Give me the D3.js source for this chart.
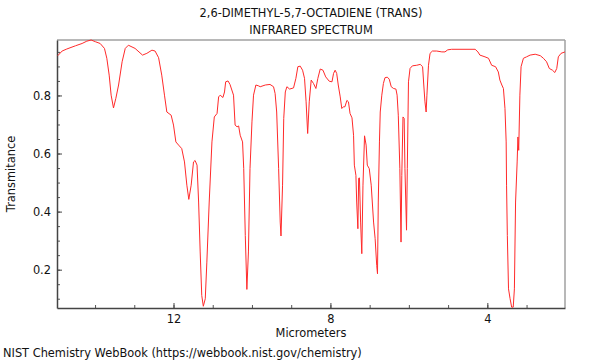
<!DOCTYPE html>
<html>
<head>
    <meta charset="utf-8">
    <title>IR spectrum with D3.js</title>
    <script src="https://d3js.org/d3.v7.min.js"></script>
    <style>
        body { margin: 0; background: #fff; }
        text { font-family: "DejaVu Sans", sans-serif; fill: #111; }
        .spectrum { fill: none; stroke: #ff2a2a; stroke-width: 1; }
    </style>
</head>
<body>
    <div id="chart"></div>

    <script>
        // Spectrum: wavelength (micrometers) and transmittance
        var micrometers = [
            14.95, 14.84, 14.72, 14.50, 14.33, 14.21, 14.10, 13.99, 13.87, 13.76,
            13.70, 13.64, 13.59, 13.53, 13.47, 13.40, 13.31, 13.23, 13.15, 12.98,
            12.79, 12.68, 12.55, 12.47, 12.38, 12.30, 12.23, 12.17, 12.06, 12.00,
            11.94, 11.87, 11.79, 11.72, 11.66, 11.61, 11.55, 11.49, 11.45, 11.40,
            11.36, 11.32, 11.28, 11.24, 11.19, 11.15, 11.09, 11.02, 10.96, 10.89,
            10.85, 10.81, 10.74, 10.70, 10.67, 10.61, 10.56, 10.47, 10.43, 10.38,
            10.34, 10.30, 10.24, 10.21, 10.17, 10.13, 10.09, 10.05, 10.00, 9.96,
            9.90, 9.83, 9.79, 9.66, 9.54, 9.45, 9.41, 9.37, 9.32, 9.28,
            9.26, 9.22, 9.19, 9.15, 9.11, 9.04, 8.94, 8.88, 8.83, 8.77,
            8.71, 8.66, 8.62, 8.58, 8.54, 8.49, 8.43, 8.37, 8.32, 8.26,
            8.19, 8.12, 8.03, 7.96, 7.92, 7.88, 7.84, 7.80, 7.75, 7.71,
            7.67, 7.63, 7.58, 7.54, 7.50, 7.45, 7.41, 7.39, 7.35, 7.33,
            7.30, 7.28, 7.26, 7.23, 7.20, 7.17, 7.13, 7.09, 7.06, 7.01,
            6.96, 6.90, 6.86, 6.82, 6.80, 6.78, 6.75, 6.73, 6.69, 6.65,
            6.61, 6.55, 6.50, 6.45, 6.39, 6.33, 6.30, 6.27, 6.23, 6.20,
            6.18, 6.15, 6.12, 6.10, 6.06, 6.04, 6.01, 5.97, 5.91, 5.80,
            5.71, 5.65, 5.62, 5.59, 5.56, 5.54, 5.50, 5.46, 5.40, 5.29,
            5.16, 5.08, 5.01, 4.91, 4.31, 4.24, 4.19, 4.06, 3.97, 3.89,
            3.79, 3.72, 3.68, 3.63, 3.59, 3.55, 3.52, 3.51, 3.49, 3.46,
            3.42, 3.38, 3.34, 3.31, 3.28, 3.24, 3.22, 3.20, 3.17, 3.14,
            3.08, 3.00, 2.91, 2.78, 2.65, 2.57, 2.49, 2.42, 2.34, 2.28,
            2.23, 2.19, 2.12, 2.02
        ];
        var transmittance = [
            0.937, 0.953, 0.960, 0.971, 0.979, 0.987, 0.991, 0.985, 0.979, 0.962,
            0.928, 0.870, 0.801, 0.757, 0.790, 0.836, 0.916, 0.962, 0.973, 0.962,
            0.939, 0.945, 0.956, 0.953, 0.930, 0.870, 0.801, 0.743, 0.732, 0.698,
            0.640, 0.629, 0.617, 0.571, 0.491, 0.442, 0.491, 0.571, 0.576, 0.560,
            0.433, 0.261, 0.111, 0.074, 0.100, 0.226, 0.433, 0.640, 0.726, 0.738,
            0.795, 0.801, 0.793, 0.812, 0.847, 0.850, 0.838, 0.801, 0.698, 0.692,
            0.695, 0.663, 0.640, 0.548, 0.318, 0.132, 0.261, 0.548, 0.709, 0.801,
            0.836, 0.833, 0.830, 0.836, 0.838, 0.830, 0.807, 0.743, 0.548, 0.364,
            0.316, 0.491, 0.721, 0.812, 0.830, 0.822, 0.826, 0.859, 0.899, 0.901,
            0.887, 0.859, 0.778, 0.669, 0.778, 0.853, 0.841, 0.824, 0.859, 0.891,
            0.887, 0.864, 0.849, 0.847, 0.876, 0.887, 0.876, 0.836, 0.795, 0.755,
            0.761, 0.761, 0.783, 0.778, 0.738, 0.723, 0.663, 0.560, 0.525, 0.433,
            0.341, 0.515, 0.516, 0.364, 0.255, 0.491, 0.661, 0.629, 0.560, 0.548,
            0.491, 0.364, 0.307, 0.215, 0.186, 0.433, 0.640, 0.743, 0.801, 0.841,
            0.861, 0.863, 0.856, 0.830, 0.824, 0.822, 0.801, 0.732, 0.548, 0.295,
            0.525, 0.726, 0.721, 0.548, 0.336, 0.548, 0.847, 0.893, 0.902, 0.904,
            0.907, 0.899, 0.836, 0.778, 0.743, 0.801, 0.904, 0.945, 0.953, 0.953,
            0.950, 0.950, 0.957, 0.959, 0.959, 0.950, 0.939, 0.933, 0.928, 0.904,
            0.899, 0.881, 0.853, 0.836, 0.824, 0.755, 0.640, 0.491, 0.318, 0.134,
            0.100, 0.071, 0.071, 0.134, 0.433, 0.571, 0.657, 0.611, 0.801, 0.899,
            0.928, 0.933, 0.939, 0.942, 0.937, 0.928, 0.916, 0.893, 0.887, 0.879,
            0.893, 0.933, 0.945, 0.950
        ];
        var xTicks = [12, 8, 4];
        var yTicks = [0.2, 0.4, 0.6, 0.8];

        var data = micrometers.map(function (m, i) { return { um: m, t: transmittance[i] }; });

        var margin = { top: 40, right: 35, bottom: 52, left: 57 };
        var W = 600, H = 360;
        var width = W - margin.left - margin.right;
        var height = H - margin.top - margin.bottom;
        var fs = "11.4px";

        var svg = d3.select("#chart").append("svg")
            .attr("width", W)
            .attr("height", H);

        var g = svg.append("g")
            .attr("transform", "translate(" + margin.left + "," + margin.top + ")");

        // wavelength runs right to left
        var x = d3.scaleLinear().domain([14.97, 2.02]).range([0, width]);
        var y = d3.scaleLinear().domain([0.068, 0.991]).range([height, 0]);

        // frame: top and right in light gray
        g.append("line").attr("x1", 0).attr("x2", width).attr("y1", 0).attr("y2", 0)
            .attr("stroke", "#a0a0a0").attr("stroke-width", 1.5);
        g.append("line").attr("x1", width).attr("x2", width).attr("y1", 0).attr("y2", height)
            .attr("stroke", "#a0a0a0").attr("stroke-width", 1.5);

        // minor ticks
        g.append("g")
            .attr("transform", "translate(0," + height + ")")
            .call(d3.axisBottom(x).tickValues(d3.range(3, 15)).tickSize(-3).tickFormat(""))
            .call(function (a) { a.select(".domain").remove(); a.selectAll("line").attr("stroke", "#555"); });
        g.append("g")
            .call(d3.axisLeft(y).tickValues(d3.range(0.1, 0.99, 0.05)).tickSize(-3).tickFormat(""))
            .call(function (a) { a.select(".domain").remove(); a.selectAll("line").attr("stroke", "#555"); });

        // major axes
        var xAxis = g.append("g")
            .attr("transform", "translate(0," + height + ")")
            .call(d3.axisBottom(x).tickValues(xTicks).tickSize(-5).tickSizeOuter(0).tickPadding(7).tickFormat(d3.format("d")));
        var yAxis = g.append("g")
            .call(d3.axisLeft(y).tickValues(yTicks).tickSize(-5).tickSizeOuter(0).tickPadding(6).tickFormat(d3.format(".1f")));
        [xAxis, yAxis].forEach(function (a) {
            a.select(".domain").attr("stroke", "#444").attr("stroke-width", 1.5);
            a.selectAll("line").attr("stroke", "#444");
            a.selectAll("text").style("font-size", fs).style("font-family", "DejaVu Sans, sans-serif").attr("fill", "#111");
        });

        // spectrum
        var line = d3.line()
            .x(function (d) { return x(d.um); })
            .y(function (d) { return y(d.t); });
        g.append("path").datum(data).attr("class", "spectrum").attr("d", line);

        // titles
        var cx = margin.left + width / 2;
        svg.append("text").attr("x", cx).attr("y", 17).attr("text-anchor", "middle")
            .style("font-size", fs).text("2,6-DIMETHYL-5,7-OCTADIENE (TRANS)");
        svg.append("text").attr("x", cx).attr("y", 34).attr("text-anchor", "middle")
            .style("font-size", fs).text("INFRARED SPECTRUM");
        svg.append("text").attr("x", cx).attr("y", 337).attr("text-anchor", "middle")
            .style("font-size", fs).text("Micrometers");
        svg.append("text").attr("transform", "translate(15," + (margin.top + height / 2) + ") rotate(-90)")
            .attr("text-anchor", "middle").style("font-size", fs).text("Transmitance");
        svg.append("text").attr("x", 3).attr("y", 357)
            .style("font-size", fs).text("NIST Chemistry WebBook (https://webbook.nist.gov/chemistry)");
    </script>
</body>
</html>
